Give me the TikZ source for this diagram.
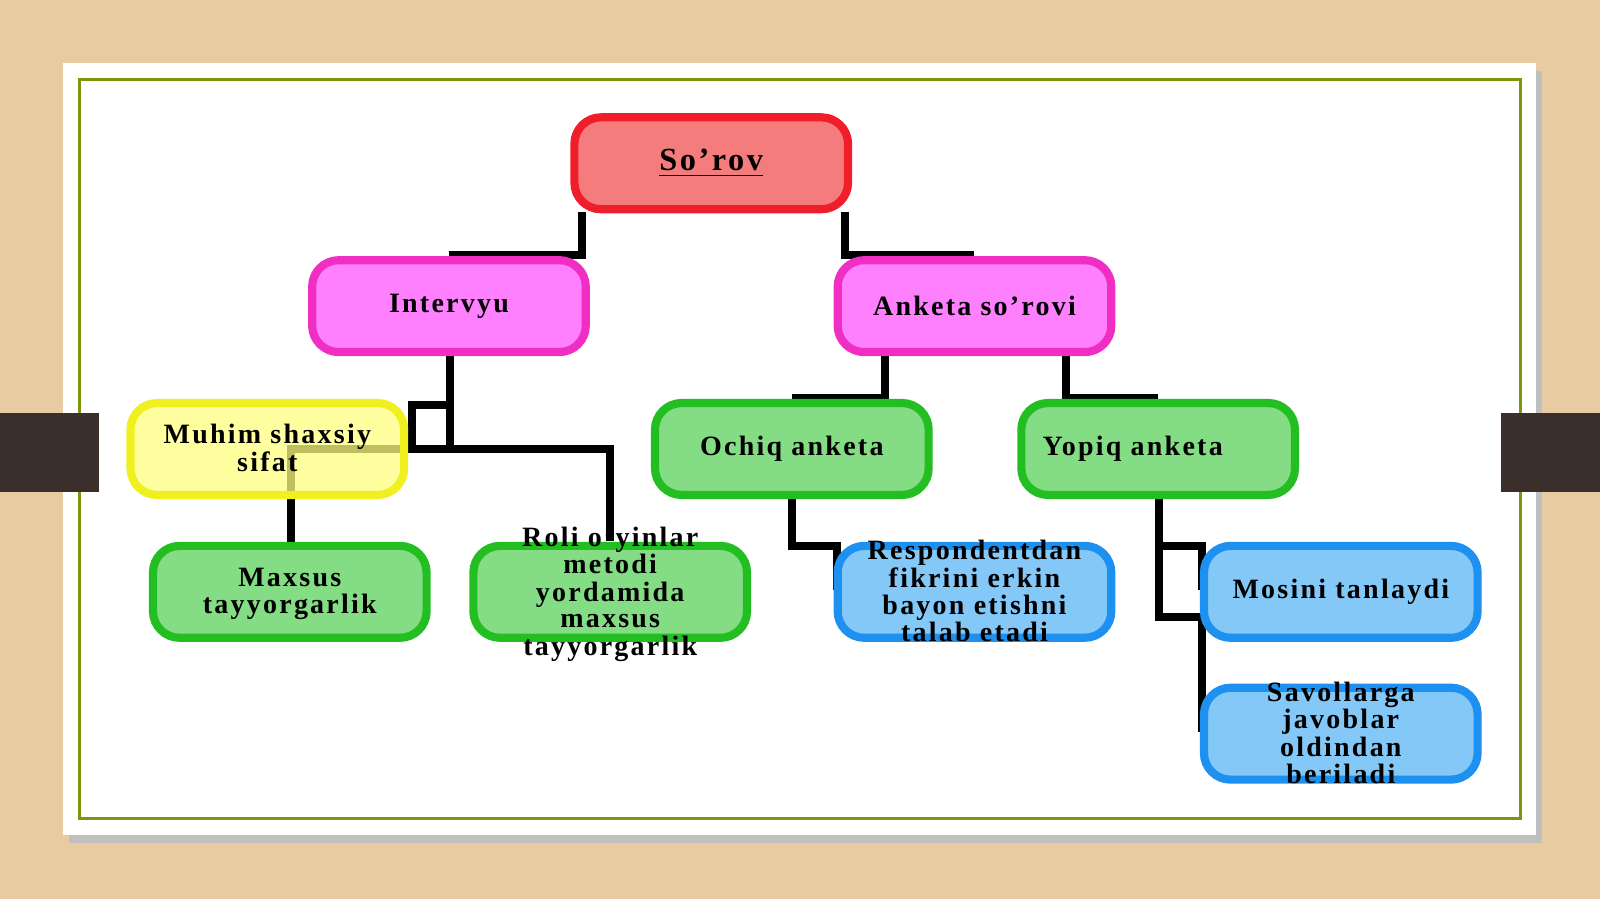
\documentclass[tikz,border=0pt]{standalone}
\usepackage{fontspec}
\setmainfont{Liberation Serif}[LetterSpace=8]
\usetikzlibrary{calc}
\definecolor{wood}{HTML}{E9CBA2}
\definecolor{tab}{HTML}{3A2F2A}
\definecolor{redfill}{HTML}{F47C7C}\definecolor{redline}{HTML}{F01E2A}
\definecolor{pinkfill}{HTML}{FF80FF}\definecolor{pinkline}{HTML}{F02EC4}
\definecolor{yelfill}{HTML}{FFFF80}\definecolor{yelline}{HTML}{F0F020}
\definecolor{grnfill}{HTML}{84DC84}\definecolor{grnline}{HTML}{22BE22}
\definecolor{blufill}{HTML}{84C8F8}\definecolor{bluline}{HTML}{1E90F0}
\newcommand{\stack}[1]{\smash{\raisebox{-0.8ex}{\begin{tabular}{@{}c@{}}#1\end{tabular}}}}
\tikzset{
  box/.style={draw, line width=0.8mm, rounded corners=2.6mm, minimum width=2.68cm,
    minimum height=0.9cm, align=center, inner sep=0pt,
    font=\fontsize{7.8}{7.4}\selectfont\bfseries},
  red box/.style={box, fill=redfill, draw=redline},
  pink box/.style={box, fill=pinkfill, draw=pinkline},
  yel box/.style={box, fill=yelfill, fill opacity=0.75, text opacity=1, draw=yelline},
  grn box/.style={box, fill=grnfill, draw=grnline},
  blu box/.style={box, fill=blufill, draw=bluline},
  link/.style={line width=0.8mm, black}
}
\begin{document}
\begin{tikzpicture}[x=0.01cm,y=-0.01cm]
  % background
  \fill[wood] (0,0) rectangle (1568,881);
  \useasboundingbox (0,0) rectangle (1568,881);
  \fill[black!25] (68,70) rectangle (1511,826);
  \fill[white] (62,62) rectangle (1505,818);
  \draw[olive!70!green, line width=0.3mm] (78,78) rectangle (1490,802);
  \fill[tab] (0,405) rectangle (97,482);
  \fill[tab] (1471,405) rectangle (1568,482);

  % joints
  \coordinate (j1) at (570,250);
  \coordinate (j2) at (828,250);
  \coordinate (j3) at (441,440);
  \coordinate (j4) at (867,390);
  \coordinate (j5) at (1045,390);
  \coordinate (j6) at (1136,605);

  % connectors
  \draw[link] (570,208) -- (j1) -- (440,250);
  \draw[link] (828,208) -- (j2) -- (955,250);
  \draw[link] (441,347) -- (j3);
  \draw[link] (441,397) -- (404,397) -- (404,440);
  \draw[link] (285,533) |- (598,440) -- (598,530);
  \draw[link] (867,347) -- (j4) -- (776,390);
  \draw[link] (1045,347) -- (j5) -- (1135,390);
  \draw[link] (776,487) |- (820,535) -- (820,578);
  \draw[link] (1136,487) -- (j6) -- (1178,605) -- (1178,717);
  \draw[link] (1136,535) -- (1178,535) -- (1178,578);

  % boxes
  \node[red box] (sorov) at (697,160) {\fontsize{9}{9}\selectfont\underline{So’rov}};
  \node[pink box] (intervyu) at (440,300) {Intervyu};
  \node[pink box] (anketa) at (955,300) {Anketa so’rovi};
  \node[yel box] (muhim) at (262,440) {\stack{Muhim shaxsiy\\sifat}};
  \node[grn box] (ochiq) at (776,440) {Ochiq anketa};
  \node[grn box] (yopiq) at (1135,440) {Yopiq anketa\hspace{0.5cm}};
  \node[grn box] (maxsus) at (284,580) {\stack{Maxsus\\tayyorgarlik}};
  \node[grn box] (roli) at (598,580) {\stack{Roli o’yinlar\\metodi\\yordamida\\maxsus\\tayyorgarlik}};
  \node[blu box] (resp) at (955,580) {\stack{Respondentdan\\fikrini erkin\\bayon etishni\\talab etadi}};
  \node[blu box] (mosini) at (1314,580) {Mosini tanlaydi};
  \node[blu box] (savol) at (1314,719) {\stack{Savollarga\\javoblar\\oldindan\\beriladi}};
\end{tikzpicture}
\end{document}
